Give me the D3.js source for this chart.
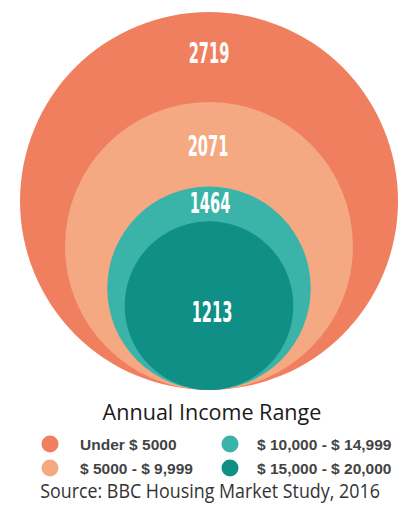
<!DOCTYPE html>
<html><head><meta charset="utf-8">
<script src="https://cdn.jsdelivr.net/npm/d3@7"></script>
<style>body{margin:0;background:#fff}svg{display:block}</style>
</head><body>
<script>
const categories = ["Under $ 5000", "$ 5000 - $ 9,999", "$ 10,000 - $ 14,999", "$ 15,000 - $ 20,000"];
const values = [2719, 2071, 1464, 1213];
const colors = ["#F07F5F", "#F5A983", "#3AB3A9", "#0F8F86"];
const title = "Annual Income Range";
const source = "Source: BBC Housing Market Study, 2016";

const W = 411, H = 514;
const svg = d3.select("body").append("svg").attr("width", W).attr("height", H);

const cx = 209, baseY = 390;
const r = d3.scaleLinear().domain([0, d3.max(values)]).range([0, 189]);

const g = svg.append("g");
g.selectAll("circle").data(values).join("circle")
  .attr("cx", cx).attr("cy", d => baseY - r(d)).attr("r", d => r(d))
  .attr("fill", (d, i) => colors[i]);

const tops = values.map(v => baseY - 2 * r(v));
const labelY = values.map((v, i) => i < values.length - 1 ? (tops[i] + tops[i + 1]) / 2 : baseY - r(v) + 6);
const adj = [-4, 2, -1, 0];
g.selectAll("text.val").data(values).join("text")
  .attr("class", "val")
  .attr("transform", (d, i) => `translate(${cx + [0, -1, 1, 3][i]},${labelY[i] + adj[i] + 10}) scale(0.58,1)`)
  .attr("text-anchor", "middle")
  .attr("fill", "#fff")
  .attr("font-family", "DejaVu Sans Condensed, DejaVu Sans")
  .attr("font-weight", "bold")
  .attr("font-size", 28)
  .text(d => d);

function fitText(x, y, txt, size, fill, width) {
  const t = svg.append("text").attr("text-anchor", "middle")
    .attr("font-family", "Open Sans").attr("font-size", size).attr("fill", fill)
    .text(txt);
  const len = t.node().getComputedTextLength() || width;
  t.attr("transform", `translate(${x},${y}) scale(${width / len},1)`);
  return t;
}
fitText(212, 420, title, 22, "#1a1a1a", 219);

const lx = [50, 230], ly = [444, 468];
const leg = svg.append("g").selectAll("g").data(categories).join("g")
  .attr("transform", (d, i) => `translate(${lx[Math.floor(i / 2)]},${ly[i % 2]})`);
leg.append("circle").attr("r", 8.5).attr("fill", (d, i) => colors[i]);
leg.append("text").attr("x", (d, i) => i < 2 ? 30 : 27).attr("y", 5.5)
  .attr("font-family", "Liberation Sans, Arial").attr("font-weight", "bold")
  .attr("font-size", 15.5).attr("fill", "#444").text(d => d);

fitText(210, 498, source, 20, "#333", 340);
</script>
</body></html>
